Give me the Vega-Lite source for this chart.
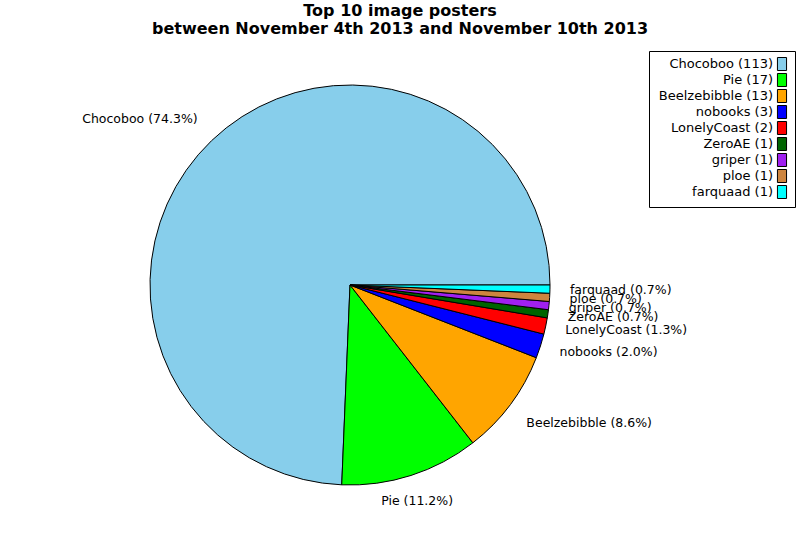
{
  "$schema": "https://vega.github.io/schema/vega-lite/v6.json",
  "width": 700,
  "height": 480,
  "autosize": {"type": "none"},
  "padding": {"left": 0, "top": 45, "right": 100, "bottom": 15},
  "background": "white",
  "title": {
    "text": ["Top 10 image posters", "between November 4th 2013 and November 10th 2013"],
    "anchor": "middle",
    "dx": 50,
    "offset": 8,
    "font": "DejaVu Sans",
    "fontSize": 16,
    "fontWeight": "bold",
    "lineHeight": 18,
    "color": "black"
  },
  "data": {
    "values": [
      {"rank": 1, "name": "Chocoboo", "count": 113, "legend": "Chocoboo (113)", "label": "Chocoboo (74.3%)"},
      {"rank": 2, "name": "Pie", "count": 17, "legend": "Pie (17)", "label": "Pie (11.2%)"},
      {"rank": 3, "name": "Beelzebibble", "count": 13, "legend": "Beelzebibble (13)", "label": "Beelzebibble (8.6%)"},
      {"rank": 4, "name": "nobooks", "count": 3, "legend": "nobooks (3)", "label": "nobooks (2.0%)"},
      {"rank": 5, "name": "LonelyCoast", "count": 2, "legend": "LonelyCoast (2)", "label": "LonelyCoast (1.3%)"},
      {"rank": 6, "name": "ZeroAE", "count": 1, "legend": "ZeroAE (1)", "label": "ZeroAE (0.7%)"},
      {"rank": 7, "name": "griper", "count": 1, "legend": "griper (1)", "label": "griper (0.7%)"},
      {"rank": 8, "name": "ploe", "count": 1, "legend": "ploe (1)", "label": "ploe (0.7%)"},
      {"rank": 9, "name": "farquaad", "count": 1, "legend": "farquaad (1)", "label": "farquaad (0.7%)"}
    ]
  },
  "layer": [
    {
      "mark": {"type": "arc", "radius": 200, "stroke": "black", "strokeWidth": 1},
      "encoding": {
        "theta": {"field": "count", "type": "quantitative", "stack": true, "scale": {"range": [1.5708, -4.7124]}},
        "order": {"field": "rank", "type": "quantitative", "sort": "ascending"},
        "color": {
          "field": "legend",
          "type": "nominal",
          "sort": null,
          "scale": {
            "domain": ["Chocoboo (113)", "Pie (17)", "Beelzebibble (13)", "nobooks (3)", "LonelyCoast (2)", "ZeroAE (1)", "griper (1)", "ploe (1)", "farquaad (1)"],
            "range": ["#87CEEB", "#00FF00", "#FFA500", "#0000FF", "#FF0000", "#006400", "#A020F0", "#CD853F", "#00FFFF"]
          },
          "legend": {
            "orient": "none",
            "legendX": 649,
            "legendY": 6,
            "title": null,
            "strokeColor": "black",
            "fillColor": "white",
            "padding": 6,
            "labelFont": "DejaVu Sans",
            "labelFontSize": 13,
            "labelColor": "black",
            "labelAlign": "right",
            "labelOffset": -16,
            "symbolOffset": 120,
            "labelLimit": 300,
            "symbolType": "M-0.7,-1H0.7V1H-0.7Z",
            "symbolSize": 169,
            "symbolStrokeColor": "black",
            "symbolStrokeWidth": 1,
            "symbolOpacity": 1,
            "rowPadding": -5
          }
        }
      }
    },
    {
      "mark": {
        "type": "text",
        "radius": 220,
        "font": "DejaVu Sans",
        "fontSize": 12.5,
        "color": "black",
        "align": {"expr": "datum.name == 'Chocoboo' ? 'right' : (datum.name == 'Pie' ? 'center' : 'left')"},
        "baseline": {"expr": "datum.name == 'Chocoboo' ? 'bottom' : ((datum.name == 'Pie' || datum.name == 'Beelzebibble') ? 'top' : 'middle')"}
      },
      "encoding": {
        "theta": {"field": "count", "type": "quantitative", "stack": true, "scale": {"range": [1.5708, -4.7124]}},
        "order": {"field": "rank", "type": "quantitative", "sort": "ascending"},
        "text": {"field": "label"}
      }
    }
  ],
  "config": {"view": {"stroke": null}}
}
